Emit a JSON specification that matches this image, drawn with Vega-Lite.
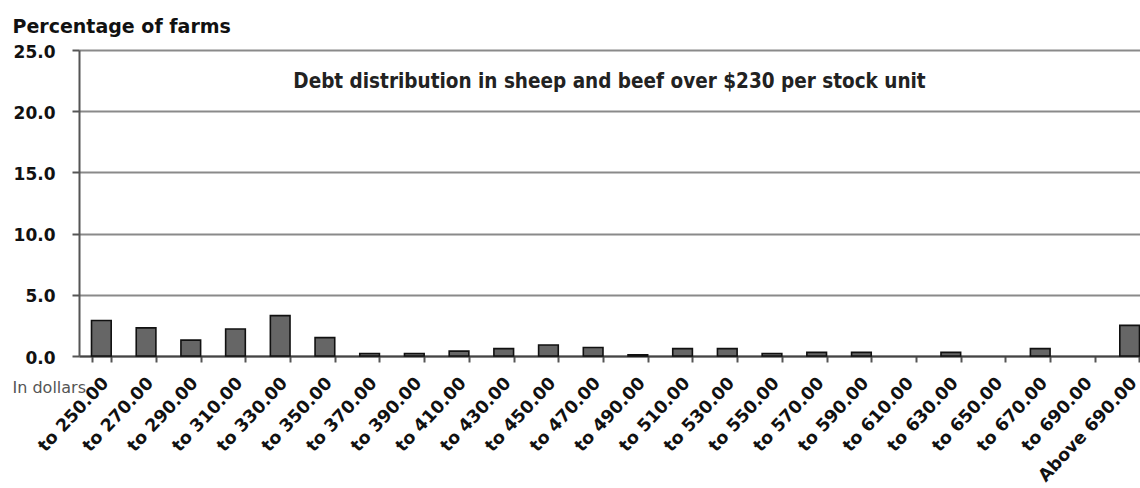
{
  "$schema": "https://vega.github.io/schema/vega-lite/v6.json",
  "width": 1061,
  "height": 306,
  "autosize": {"type": "none"},
  "padding": {"left": 79, "top": 50, "right": 0, "bottom": 132},
  "background": "white",
  "title": {
    "text": "Debt distribution in sheep and beef over $230 per stock unit",
    "font": "Liberation Sans Narrow, DejaVu Sans Condensed, Roboto",
    "fontSize": 20.5,
    "fontWeight": "bold",
    "color": "#222222",
    "anchor": "middle",
    "frame": "group",
    "orient": "top",
    "baseline": "alphabetic",
    "offset": 0,
    "dy": 91
  },
  "data": {
    "values": [
      {"range": "to 250.00", "pct": 2.9},
      {"range": "to 270.00", "pct": 2.3},
      {"range": "to 290.00", "pct": 1.3},
      {"range": "to 310.00", "pct": 2.2},
      {"range": "to 330.00", "pct": 3.3},
      {"range": "to 350.00", "pct": 1.5},
      {"range": "to 370.00", "pct": 0.2},
      {"range": "to 390.00", "pct": 0.2},
      {"range": "to 410.00", "pct": 0.4},
      {"range": "to 430.00", "pct": 0.6},
      {"range": "to 450.00", "pct": 0.9},
      {"range": "to 470.00", "pct": 0.7},
      {"range": "to 490.00", "pct": 0.1},
      {"range": "to 510.00", "pct": 0.6},
      {"range": "to 530.00", "pct": 0.6},
      {"range": "to 550.00", "pct": 0.2},
      {"range": "to 570.00", "pct": 0.3},
      {"range": "to 590.00", "pct": 0.3},
      {"range": "to 610.00", "pct": 0},
      {"range": "to 630.00", "pct": 0.3},
      {"range": "to 650.00", "pct": 0},
      {"range": "to 670.00", "pct": 0.6},
      {"range": "to 690.00", "pct": 0},
      {"range": "Above 690.00", "pct": 2.5}
    ]
  },
  "mark": {"type": "bar", "fill": "#666666", "stroke": "#111111", "strokeWidth": 1.6},
  "encoding": {
    "x": {
      "field": "range",
      "type": "nominal",
      "sort": null,
      "scale": {"range": [0, 1073], "paddingInner": 0.56, "paddingOuter": 0.28},
      "axis": {
        "title": "In dollars",
        "titleX": -67,
        "titleY": 36,
        "titleAlign": "left",
        "titleBaseline": "alphabetic",
        "titleFont": "DejaVu Sans",
        "titleFontWeight": "normal",
        "titleFontSize": 16,
        "titleColor": "#555555",
        "labelAngle": -47,
        "labelAlign": "right",
        "labelBaseline": "middle",
        "labelFont": "DejaVu Sans",
        "labelFontWeight": "bold",
        "labelFontSize": 17.5,
        "labelColor": "#111111",
        "labelPadding": 18,
        "labelOffset": 4,
        "labelOverlap": false,
        "tickBand": "extent",
        "tickSize": 6,
        "tickWidth": 2,
        "tickColor": "#555555",
        "domainColor": "#444444",
        "domainWidth": 2
      }
    },
    "y": {
      "field": "pct",
      "type": "quantitative",
      "scale": {"domain": [0, 25], "nice": false},
      "axis": {
        "title": "Percentage of farms",
        "titleAngle": 0,
        "titleX": -67,
        "titleY": -18,
        "titleAlign": "left",
        "titleBaseline": "alphabetic",
        "titleFont": "DejaVu Sans",
        "titleFontWeight": "bold",
        "titleFontSize": 19,
        "titleColor": "#111111",
        "values": [0, 5, 10, 15, 20, 25],
        "format": ".1f",
        "labelFont": "DejaVu Sans",
        "labelFontWeight": "bold",
        "labelFontSize": 17,
        "labelColor": "#111111",
        "labelPadding": 17,
        "labelBaseline": "middle",
        "labelOffset": 2,
        "grid": true,
        "gridColor": "#8a8a8a",
        "gridWidth": 2,
        "tickSize": 7,
        "tickWidth": 2,
        "tickColor": "#555555",
        "domainColor": "#555555",
        "domainWidth": 2
      }
    },
    "strokeOpacity": {
      "condition": {"test": "datum.pct > 0", "value": 1},
      "value": 0
    }
  },
  "config": {"view": {"stroke": null}}
}
